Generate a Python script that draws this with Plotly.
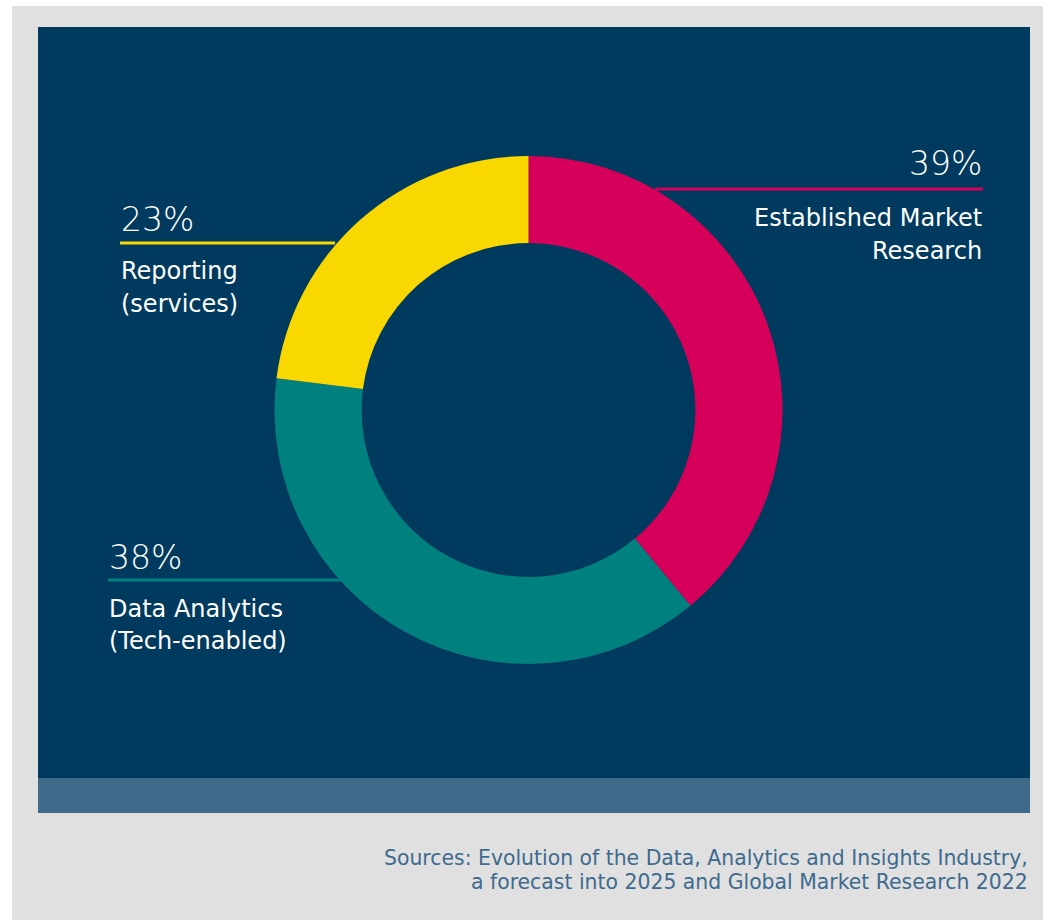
import plotly.graph_objects as go

labels = ["Established Market Research", "Data Analytics (Tech-enabled)", "Reporting (services)"]
values = [39, 38, 23]
colors = ["#d6005b", "#00807f", "#f8d800"]
pct_text = ["39%", "38%", "23%"]
name_lines = [["Established Market", "Research"], ["Data Analytics", "(Tech-enabled)"], ["Reporting", "(services)"]]
source_lines = ["Sources: Evolution of the Data, Analytics and Insights Industry,",
                "a forecast into 2025 and Global Market Research 2022"]

W, H = 1043, 920

def px(x):
    return x / W

def py(y):
    return 1 - y / H

cx, cy, R = 528.5, 410, 254

fig = go.Figure()
fig.add_trace(go.Pie(
    labels=labels, values=values, hole=0.657, sort=False, direction="clockwise", rotation=0,
    marker=dict(colors=colors, line=dict(width=0)), textinfo="none", hoverinfo="label+percent",
    domain=dict(x=[px(cx - R), px(cx + R)], y=[py(cy + R), py(cy - R)]), showlegend=False,
))

shapes = [
    dict(type="rect", xref="paper", yref="paper", x0=px(12), x1=1, y0=0, y1=py(6),
         fillcolor="#e0e0e0", line=dict(width=0), layer="below"),
    dict(type="rect", xref="paper", yref="paper", x0=px(38), x1=px(1030), y0=py(778), y1=py(27),
         fillcolor="#003a5e", line=dict(width=0), layer="below"),
    dict(type="rect", xref="paper", yref="paper", x0=px(38), x1=px(1030), y0=py(813), y1=py(778),
         fillcolor="#3f6a8a", line=dict(width=0), layer="below"),
]
leaders = [(655, 983, 189, colors[0]), (108, 345, 580, colors[1]), (120, 335, 243, colors[2])]
for x0, x1, y, c in leaders:
    shapes.append(dict(type="line", xref="paper", yref="paper", x0=px(x0), x1=px(x1), y0=py(y), y1=py(y),
                       line=dict(color=c, width=3), layer="below"))

annotations = []
anchors = [(984, "right", 164, 218, 251), (107, "left", 557, 609, 641), (119, "left", 219, 271, 304)]
for (x, xa, yp, y1, y2), pt, nl in zip(anchors, pct_text, name_lines):
    annotations.append(dict(x=px(x), y=py(yp), xref="paper", yref="paper", text=pt, showarrow=False,
                            xanchor=xa, yanchor="middle",
                            font=dict(family="DejaVu Sans", size=33, color="white", weight=200)))
    for ly, t in zip((y1, y2), nl):
        annotations.append(dict(x=px(x), y=py(ly), xref="paper", yref="paper", text=t, showarrow=False,
                                xanchor=xa, yanchor="middle",
                                font=dict(family="DejaVu Sans", size=24, color="white")))
for ly, t in zip((858, 882), source_lines):
    annotations.append(dict(x=px(1030), y=py(ly), xref="paper", yref="paper", text=t, showarrow=False,
                            xanchor="right", yanchor="middle",
                            font=dict(family="DejaVu Sans", size=20.4, color="#3d6a8e")))

fig.update_layout(width=W, height=H, margin=dict(l=0, r=0, t=0, b=0), paper_bgcolor="white",
                  plot_bgcolor="white", shapes=shapes, annotations=annotations)
fig.write_html("out.html")
